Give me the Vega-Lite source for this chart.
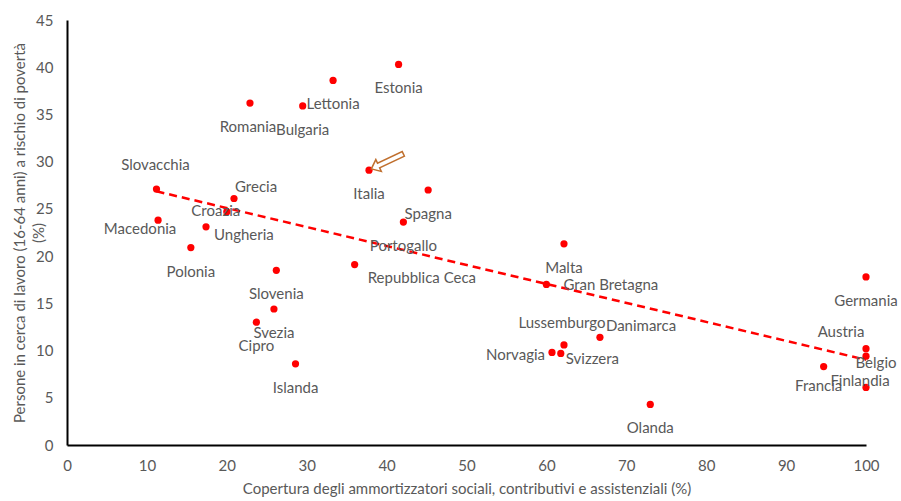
{
  "$schema": "https://vega.github.io/schema/vega-lite/v6.json",
  "width": 799,
  "height": 425,
  "autosize": "none",
  "padding": {"left": 67, "top": 20, "right": 35, "bottom": 56},
  "background": "white",
  "config": {
    "view": {"stroke": null},
    "font": "Lato",
    "text": {"font": "Lato", "fontSize": 15, "color": "#595959", "baseline": "middle"}
  },
  "data": {
    "values": [
      {"paese": "Slovacchia", "copertura": 11.2, "poverta": 27.1},
      {"paese": "Macedonia", "copertura": 11.4, "poverta": 23.8},
      {"paese": "Polonia", "copertura": 15.5, "poverta": 20.9},
      {"paese": "Ungheria", "copertura": 17.4, "poverta": 23.1},
      {"paese": "Croazia", "copertura": 20.0, "poverta": 24.7},
      {"paese": "Grecia", "copertura": 20.9, "poverta": 26.1},
      {"paese": "Romania", "copertura": 22.9, "poverta": 36.2},
      {"paese": "Bulgaria", "copertura": 29.5, "poverta": 35.9},
      {"paese": "Lettonia", "copertura": 33.3, "poverta": 38.6},
      {"paese": "Estonia", "copertura": 41.5, "poverta": 40.3},
      {"paese": "Italia", "copertura": 37.8, "poverta": 29.1},
      {"paese": "Spagna", "copertura": 45.2, "poverta": 27.0},
      {"paese": "Portogallo", "copertura": 42.1, "poverta": 23.6},
      {"paese": "Repubblica Ceca", "copertura": 36.0, "poverta": 19.1},
      {"paese": "Slovenia", "copertura": 26.2, "poverta": 18.5},
      {"paese": "Svezia", "copertura": 25.9, "poverta": 14.4},
      {"paese": "Cipro", "copertura": 23.7, "poverta": 13.0},
      {"paese": "Islanda", "copertura": 28.6, "poverta": 8.6},
      {"paese": "Malta", "copertura": 62.2, "poverta": 21.3},
      {"paese": "Gran Bretagna", "copertura": 60.0, "poverta": 17.0},
      {"paese": "Lussemburgo", "copertura": 62.2, "poverta": 10.6},
      {"paese": "Danimarca", "copertura": 66.7, "poverta": 11.4},
      {"paese": "Norvagia", "copertura": 60.7, "poverta": 9.8},
      {"paese": "Svizzera", "copertura": 61.8, "poverta": 9.7},
      {"paese": "Olanda", "copertura": 73.0, "poverta": 4.3},
      {"paese": "Germania", "copertura": 100, "poverta": 17.8},
      {"paese": "Austria", "copertura": 100, "poverta": 10.2},
      {"paese": "Belgio", "copertura": 100, "poverta": 9.4},
      {"paese": "Francia", "copertura": 94.7, "poverta": 8.3},
      {"paese": "Finlandia", "copertura": 100, "poverta": 6.1}
    ]
  },
  "encoding": {
    "x": {
      "field": "copertura", "type": "quantitative",
      "scale": {"domain": [0, 100], "nice": false, "zero": true},
      "axis": {
        "values": [0, 10, 20, 30, 40, 50, 60, 70, 80, 90, 100],
        "grid": false, "ticks": false,
        "domainColor": "#000000", "domainWidth": 2,
        "labelColor": "#595959", "labelFont": "Lato", "labelFontSize": 15,
        "labelPadding": 13, "labelOverlap": false, "labelFlush": false, "labelBound": false,
        "title": "Copertura degli ammortizzatori sociali, contributivi e assistenziali (%)",
        "titleColor": "#595959", "titleFont": "Lato", "titleFontSize": 15, "titleFontWeight": "normal",
        "titlePadding": 8
      }
    },
    "y": {
      "field": "poverta", "type": "quantitative",
      "scale": {"domain": [0, 45], "nice": false},
      "axis": {
        "values": [0, 5, 10, 15, 20, 25, 30, 35, 40, 45],
        "grid": false, "ticks": false,
        "domainColor": "#000000", "domainWidth": 2,
        "labelColor": "#595959", "labelFont": "Lato", "labelFontSize": 15,
        "labelPadding": 14, "labelOverlap": false, "labelFlush": false, "labelBound": false,
        "title": ["Persone in cerca di lavoro (16-64 anni) a rischio di povertà", "(%)"],
        "titleColor": "#595959", "titleFont": "Lato", "titleFontSize": 15, "titleFontWeight": "normal",
        "titleLineHeight": 19,
        "titleX": -48, "titleY": 212.5, "titleAngle": -90, "titleAlign": "center", "titleBaseline": "middle"
      }
    }
  },
  "layer": [
    {
      "transform": [{"regression": "poverta", "on": "copertura"}],
      "mark": {"type": "line", "color": "#FF0000", "strokeWidth": 2.5, "strokeDash": [8, 5]}
    },
    {
      "mark": {"type": "point", "filled": true, "color": "#FF0000", "size": 52, "opacity": 1}
    },
    {
      "transform": [{"filter": "datum.paese === 'Italia'"}],
      "mark": {
        "type": "point", "filled": false, "fill": "#FFFFFF", "fillOpacity": 1,
        "stroke": "#C0702F", "strokeWidth": 1.5, "opacity": 1, "size": 10000,
        "shape": "M0.046,-0.026L0.246,0.024L0.212,-0.048L0.708,-0.28L0.664,-0.372L0.17,-0.14L0.136,-0.212Z"
      }
    },
    {
      "transform": [{"filter": {"field": "paese", "oneOf": ["Estonia", "Lettonia", "Bulgaria", "Italia", "Spagna", "Portogallo", "Polonia", "Slovenia", "Svezia", "Cipro", "Islanda", "Malta", "Germania", "Olanda"]}}],
      "mark": {"type": "text", "align": "center", "dy": 24},
      "encoding": {"text": {"field": "paese"}}
    },
    {
      "transform": [{"filter": {"field": "paese", "oneOf": ["Romania"]}}],
      "mark": {"type": "text", "align": "center", "dx": -2, "dy": 24},
      "encoding": {"text": {"field": "paese"}}
    },
    {
      "transform": [{"filter": {"field": "paese", "oneOf": ["Slovacchia"]}}],
      "mark": {"type": "text", "align": "center", "dx": -1, "dy": -24},
      "encoding": {"text": {"field": "paese"}}
    },
    {
      "transform": [{"filter": {"field": "paese", "oneOf": ["Francia"]}}],
      "mark": {"type": "text", "align": "center", "dx": -5, "dy": 19},
      "encoding": {"text": {"field": "paese"}}
    },
    {
      "transform": [{"filter": {"field": "paese", "oneOf": ["Finlandia"]}}],
      "mark": {"type": "text", "align": "center", "dx": -6, "dy": -6},
      "encoding": {"text": {"field": "paese"}}
    },
    {
      "transform": [{"filter": {"field": "paese", "oneOf": ["Austria"]}}],
      "mark": {"type": "text", "align": "center", "dx": -25, "dy": -17},
      "encoding": {"text": {"field": "paese"}}
    },
    {
      "transform": [{"filter": {"field": "paese", "oneOf": ["Belgio"]}}],
      "mark": {"type": "text", "align": "center", "dx": 10, "dy": 7},
      "encoding": {"text": {"field": "paese"}}
    },
    {
      "transform": [{"filter": {"field": "paese", "oneOf": ["Lussemburgo"]}}],
      "mark": {"type": "text", "align": "center", "dx": -2, "dy": -22},
      "encoding": {"text": {"field": "paese"}}
    },
    {
      "transform": [{"filter": {"field": "paese", "oneOf": ["Danimarca"]}}],
      "mark": {"type": "text", "align": "left", "dx": 6, "dy": -11},
      "encoding": {"text": {"field": "paese"}}
    },
    {
      "transform": [{"filter": {"field": "paese", "oneOf": ["Norvagia"]}}],
      "mark": {"type": "text", "align": "right", "dx": -7, "dy": 3},
      "encoding": {"text": {"field": "paese"}}
    },
    {
      "transform": [{"filter": {"field": "paese", "oneOf": ["Svizzera"]}}],
      "mark": {"type": "text", "align": "left", "dx": 5, "dy": 6},
      "encoding": {"text": {"field": "paese"}}
    },
    {
      "transform": [{"filter": {"field": "paese", "oneOf": ["Gran Bretagna"]}}],
      "mark": {"type": "text", "align": "left", "dx": 17, "dy": 1},
      "encoding": {"text": {"field": "paese"}}
    },
    {
      "transform": [{"filter": {"field": "paese", "oneOf": ["Repubblica Ceca"]}}],
      "mark": {"type": "text", "align": "left", "dx": 13, "dy": 13},
      "encoding": {"text": {"field": "paese"}}
    },
    {
      "transform": [{"filter": {"field": "paese", "oneOf": ["Grecia"]}}],
      "mark": {"type": "text", "align": "left", "dx": 1, "dy": -12},
      "encoding": {"text": {"field": "paese"}}
    },
    {
      "transform": [{"filter": {"field": "paese", "oneOf": ["Croazia"]}}],
      "mark": {"type": "text", "align": "center", "dx": -11, "dy": -1},
      "encoding": {"text": {"field": "paese"}}
    },
    {
      "transform": [{"filter": {"field": "paese", "oneOf": ["Macedonia"]}}],
      "mark": {"type": "text", "align": "center", "dx": -18, "dy": 9},
      "encoding": {"text": {"field": "paese"}}
    },
    {
      "transform": [{"filter": {"field": "paese", "oneOf": ["Ungheria"]}}],
      "mark": {"type": "text", "align": "left", "dx": 8, "dy": 8},
      "encoding": {"text": {"field": "paese"}}
    }
  ]
}
